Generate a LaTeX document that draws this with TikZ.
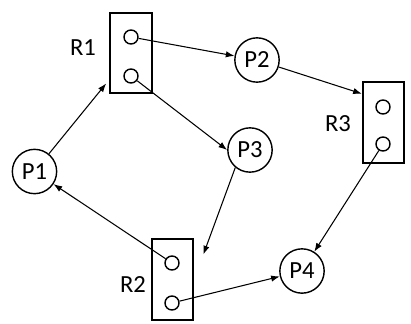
\documentclass[tikz,border=0pt]{standalone}
\usepackage{fontspec}
\setmainfont{Carlito}
\usetikzlibrary{positioning,arrows.meta}

\begin{document}
\begin{tikzpicture}[
  proc/.style={
    draw,
    circle,
    line width=1.2pt,
    minimum size=1.33cm,
    inner sep=0pt,
    font=\fontsize{21}{21}\selectfont
  },
  res/.style={
    draw,
    line width=1.7pt,
    minimum width=1.24cm,
    minimum height=2.42cm,
    inner sep=0pt
  },
  inst/.style={
    draw,
    circle,
    line width=1.2pt,
    minimum size=0.42cm,
    inner sep=0pt
  },
  rlabel/.style={
    font=\fontsize{21}{21}\selectfont
  },
  arrow/.style={-{Latex[length=2.6mm,width=1.9mm]}, line width=0.9pt}
]
\useasboundingbox (0,0) rectangle (12.33,9.69);

% --------------------
% Resources
% --------------------
\node[res] (R1box) at (3.93,8.10) {};
\node[inst] (R1a) at (3.93,8.58) {};
\node[inst] (R1b) at (3.93,7.41) {};
\node[rlabel] (R1) at (2.49,8.25) {R1};

\node[res] (R2box) at (5.175,1.305) {};
\node[inst] (R2a) at (5.16,1.80) {};
\node[inst] (R2b) at (5.16,0.60) {};
\node[rlabel] (R2) at (3.99,1.14) {R2};

\node[res] (R3box) at (11.505,6.015) {};
\node[inst] (R3a) at (11.49,6.48) {};
\node[inst] (R3b) at (11.49,5.37) {};
\node[rlabel] (R3) at (10.14,5.97) {R3};

% --------------------
% Processes
% --------------------
\node[proc] (P1) at (1.035,4.545) {P1};
\node[proc] (P2) at (7.71,7.89) {P2};
\node[proc] (P3) at (7.5,5.19) {P3};
\node[proc] (P4) at (9.06,1.56) {P4};

% --------------------
% Arrows
% --------------------
\draw[arrow, shorten >=0.15cm] (P1) -- (R1box);
\draw[arrow] (R1a) -- (P2);
\draw[arrow] (R1b) -- (P3.west);
\draw[arrow] (P2) -- (R3box.127);
\draw[arrow] (R3b) -- (P4);
\draw[arrow, shorten >=0.8cm] (P3.230) -- (R2box.east);
\draw[arrow] (R2a) -- (P1);
\draw[arrow] (R2b) -- (P4);

\end{tikzpicture}
\end{document}
